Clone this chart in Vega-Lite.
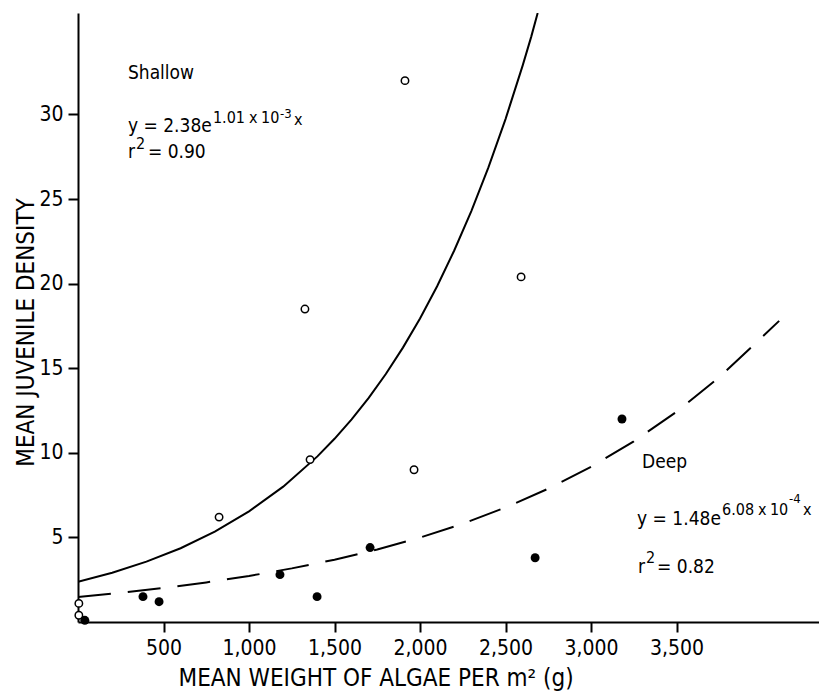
{
  "$schema": "https://vega.github.io/schema/vega-lite/v6.json",
  "width": 741,
  "height": 609,
  "autosize": {"type": "none"},
  "padding": {"left": 78, "top": 13, "right": 0, "bottom": 69},
  "background": "white",
  "config": {
    "view": {"stroke": null},
    "font": "DejaVu Sans Condensed",
    "text": {"font": "DejaVu Sans Condensed", "color": "black"},
    "axis": {
      "grid": false,
      "domainColor": "black",
      "domainWidth": 2,
      "tickColor": "black",
      "tickWidth": 2,
      "tickSize": 10,
      "labelColor": "black",
      "labelFont": "DejaVu Sans Condensed",
      "labelFontSize": 21,
      "labelPadding": 5,
      "titleColor": "black",
      "titleFont": "DejaVu Sans Condensed",
      "titleFontSize": 24,
      "titleFontWeight": "normal"
    }
  },
  "datasets": {
    "points": [
      {"habitat": "Shallow", "weight": 5, "density": 1.1},
      {"habitat": "Shallow", "weight": 5, "density": 0.4},
      {"habitat": "Shallow", "weight": 825, "density": 6.2},
      {"habitat": "Shallow", "weight": 1327, "density": 18.5},
      {"habitat": "Shallow", "weight": 1357, "density": 9.6},
      {"habitat": "Shallow", "weight": 1912, "density": 32.0},
      {"habitat": "Shallow", "weight": 1965, "density": 9.0},
      {"habitat": "Shallow", "weight": 2591, "density": 20.4},
      {"habitat": "Deep", "weight": 40, "density": 0.1},
      {"habitat": "Deep", "weight": 380, "density": 1.5},
      {"habitat": "Deep", "weight": 474, "density": 1.2},
      {"habitat": "Deep", "weight": 1181, "density": 2.8},
      {"habitat": "Deep", "weight": 1398, "density": 1.5},
      {"habitat": "Deep", "weight": 1708, "density": 4.4},
      {"habitat": "Deep", "weight": 2673, "density": 3.8},
      {"habitat": "Deep", "weight": 3181, "density": 12.0}
    ],
    "shallowCurve": [
      {"weight": 0, "density": 2.38},
      {"weight": 200, "density": 2.91},
      {"weight": 400, "density": 3.57},
      {"weight": 600, "density": 4.36},
      {"weight": 800, "density": 5.34},
      {"weight": 1000, "density": 6.54},
      {"weight": 1200, "density": 8.0},
      {"weight": 1400, "density": 9.79},
      {"weight": 1500, "density": 10.83},
      {"weight": 1600, "density": 11.98},
      {"weight": 1700, "density": 13.25},
      {"weight": 1800, "density": 14.66},
      {"weight": 1900, "density": 16.22},
      {"weight": 2000, "density": 17.94},
      {"weight": 2100, "density": 19.85},
      {"weight": 2200, "density": 21.96},
      {"weight": 2300, "density": 24.29},
      {"weight": 2400, "density": 26.87},
      {"weight": 2500, "density": 29.73},
      {"weight": 2600, "density": 32.89},
      {"weight": 2650, "density": 34.59},
      {"weight": 2688, "density": 36.0}
    ],
    "deepCurve": [
      {"weight": 0, "density": 1.48},
      {"weight": 250, "density": 1.72},
      {"weight": 500, "density": 2.01},
      {"weight": 750, "density": 2.34},
      {"weight": 1000, "density": 2.72},
      {"weight": 1250, "density": 3.17},
      {"weight": 1500, "density": 3.68},
      {"weight": 1750, "density": 4.29},
      {"weight": 2000, "density": 4.99},
      {"weight": 2250, "density": 5.81},
      {"weight": 2500, "density": 6.77},
      {"weight": 2750, "density": 7.88},
      {"weight": 3000, "density": 9.17},
      {"weight": 3250, "density": 10.68},
      {"weight": 3500, "density": 12.43},
      {"weight": 3750, "density": 14.47},
      {"weight": 4000, "density": 16.84},
      {"weight": 4100, "density": 17.8}
    ],
    "labelsMain": [
      {"weight": 292, "density": 32.1, "text": "Shallow"},
      {"weight": 292, "density": 28.97, "text": "y = 2.38e"},
      {"weight": 292, "density": 27.4, "text": "r"},
      {"weight": 409, "density": 27.4, "text": "= 0.90"},
      {"weight": 3298, "density": 9.1, "text": "Deep"},
      {"weight": 3269, "density": 5.73, "text": "y = 1.48e"},
      {"weight": 3275, "density": 2.9, "text": "r"},
      {"weight": 3386, "density": 2.9, "text": "= 0.82"}
    ],
    "labelsSup": [
      {"weight": 789, "density": 29.5, "text": "1.01"},
      {"weight": 1000, "density": 29.5, "text": "x"},
      {"weight": 1070, "density": 29.5, "text": "10"},
      {"weight": 1263, "density": 29.38, "text": "x"},
      {"weight": 339, "density": 27.95, "text": "2"},
      {"weight": 3766, "density": 6.33, "text": "6.08"},
      {"weight": 3976, "density": 6.33, "text": "x"},
      {"weight": 4046, "density": 6.33, "text": "10"},
      {"weight": 4240, "density": 6.33, "text": "x"},
      {"weight": 3321, "density": 3.49, "text": "2"}
    ],
    "labelsSupSup": [
      {"weight": 1181, "density": 29.79, "text": "-3"},
      {"weight": 4158, "density": 7.03, "text": "-4"}
    ]
  },
  "encoding": {
    "x": {
      "field": "weight", "type": "quantitative",
      "scale": {"domain": [0, 4333], "nice": false, "zero": false},
      "axis": {
        "values": [500, 1000, 1500, 2000, 2500, 3000, 3500],
        "format": ",.0f",
        "title": "MEAN WEIGHT OF ALGAE PER m² (g)",
        "titleX": 100,
        "titleY": 63,
        "titleAlign": "left",
        "titleBaseline": "alphabetic"
      }
    },
    "y": {
      "field": "density", "type": "quantitative",
      "scale": {"domain": [0, 36], "nice": false, "zero": false},
      "axis": {
        "values": [5, 10, 15, 20, 25, 30],
        "title": "MEAN JUVENILE DENSITY",
        "titleX": -45,
        "titleY": 319,
        "titleAlign": "center",
        "titleBaseline": "alphabetic"
      }
    }
  },
  "layer": [
    {
      "data": {"name": "shallowCurve"},
      "mark": {"type": "line", "color": "black", "strokeWidth": 2, "clip": true}
    },
    {
      "data": {"name": "deepCurve"},
      "mark": {"type": "line", "color": "black", "strokeWidth": 2, "strokeDash": [33, 17], "clip": true}
    },
    {
      "data": {"values": [{}]},
      "mark": {"type": "rule", "color": "black", "strokeWidth": 2},
      "encoding": {"x": {"datum": 0}, "x2": {"datum": 4333}, "y": {"datum": 36}}
    },
    {
      "data": {"name": "points"},
      "transform": [{"filter": "datum.habitat === 'Shallow'"}],
      "mark": {"type": "point", "shape": "circle", "stroke": "black", "strokeWidth": 1.5, "opacity": 1, "fill": "white", "filled": false, "size": 55}
    },
    {
      "data": {"name": "points"},
      "transform": [{"filter": "datum.habitat === 'Deep'"}],
      "mark": {"type": "point", "shape": "circle", "color": "black", "opacity": 1, "filled": true, "size": 80}
    },
    {
      "data": {"name": "labelsMain"},
      "mark": {"type": "text", "align": "left", "baseline": "alphabetic", "fontSize": 19},
      "encoding": {"text": {"field": "text"}}
    },
    {
      "data": {"name": "labelsSup"},
      "mark": {"type": "text", "align": "left", "baseline": "alphabetic", "fontSize": 16},
      "encoding": {"text": {"field": "text"}}
    },
    {
      "data": {"name": "labelsSupSup"},
      "mark": {"type": "text", "align": "left", "baseline": "alphabetic", "fontSize": 13},
      "encoding": {"text": {"field": "text"}}
    }
  ]
}
